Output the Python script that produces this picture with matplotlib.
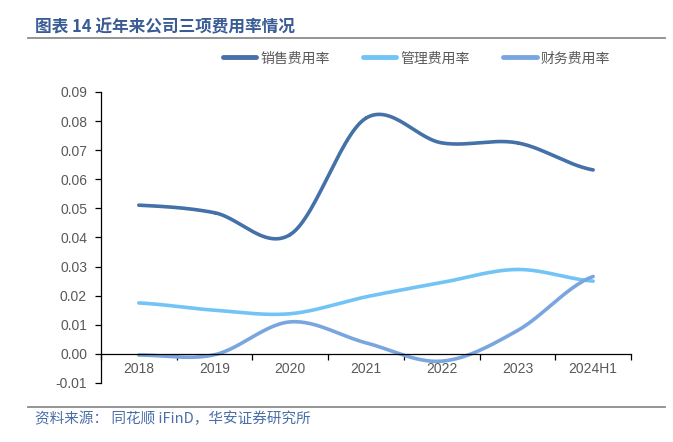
import numpy as np
import matplotlib.pyplot as plt
from matplotlib.lines import Line2D

plt.rcParams['font.family'] = ['Liberation Sans', 'Noto Sans CJK SC', 'DejaVu Sans']

# Data
years = ['2018', '2019', '2020', '2021', '2022', '2023', '2024H1']
sales_rate = [0.0511, 0.0485, 0.0410, 0.0810, 0.0725, 0.0725, 0.0632]
admin_rate = [0.0175, 0.0150, 0.0138, 0.0196, 0.0245, 0.0290, 0.0250]
fin_rate = [-0.0004, -0.0003, 0.0110, 0.0038, -0.0025, 0.0080, 0.0266]

names = ['销售费用率', '管理费用率', '财务费用率']
colors = ['#4471A8', '#72C4F6', '#7AA6E0']


def smooth(y, n=30):
    # Catmull-Rom style smoothing, like Excel smoothed lines
    y = np.asarray(y, dtype=float)
    x = np.arange(len(y), dtype=float)
    xs, ys = [], []
    for i in range(len(y) - 1):
        p0 = y[i - 1] if i > 0 else y[i]
        p1, p2 = y[i], y[i + 1]
        p3 = y[i + 2] if i + 2 < len(y) else y[i + 1]
        t = np.linspace(0, 1, n)
        seg = 0.5 * ((2 * p1) + (-p0 + p2) * t + (2 * p0 - 5 * p1 + 4 * p2 - p3) * t ** 2
                     + (-p0 + 3 * p1 - 3 * p2 + p3) * t ** 3)
        xs.append(x[i] + t)
        ys.append(seg)
    return np.concatenate(xs), np.concatenate(ys)


fig = plt.figure(figsize=(6.73, 4.42), dpi=100)
ax = fig.add_axes([0.150, 0.1335, 0.7876, 0.6585])

for vals, c in zip([sales_rate, admin_rate, fin_rate], colors):
    sx, sy = smooth(vals)
    ax.plot(sx, sy, color=c, lw=2.6, solid_capstyle='round')

ax.set_xlim(-0.5, len(years) - 0.5)
ax.set_ylim(-0.01, 0.09)
ax.set_yticks(np.arange(-0.01, 0.0901, 0.01))
ax.set_yticklabels(['%.2f' % v for v in np.arange(-0.01, 0.0901, 0.01)])

ax.spines['top'].set_visible(False)
ax.spines['right'].set_visible(False)
ax.spines['bottom'].set_position(('data', 0))
ax.spines['left'].set_linewidth(0.9)
ax.spines['bottom'].set_linewidth(0.9)

ax.set_xticks(range(len(years)))
ax.set_xticklabels(years)
ax.set_xticks(np.arange(-0.5, len(years), 1), minor=True)
ax.tick_params(axis='x', which='major', length=0, pad=6, labelsize=10, labelcolor='#595959')
ax.tick_params(axis='x', which='minor', length=4, direction='out', width=0.9)
ax.tick_params(axis='y', length=4, direction='out', width=0.9, labelsize=10, labelcolor='#595959', pad=6)

handles = [Line2D([], [], color=c, lw=3.5, solid_capstyle='round') for c in colors]
fig.legend(handles, names, loc='center', bbox_to_anchor=(0.619, 0.868), ncol=3,
           frameon=False, handlelength=2.4, handletextpad=0.3, columnspacing=2.4,
           prop={'family': ['Noto Sans CJK SC'], 'size': 10}, labelcolor='#595959')

# Title and source
fig.text(0.052, 0.938, '图表 14 近年来公司三项费用率情况', fontsize=12, fontweight='bold',
         color='#3A5C94', family=['Noto Sans CJK SC', 'DejaVu Sans'], va='center')
fig.add_artist(Line2D([0.042, 0.988], [0.914, 0.914], color='#8C8C8C', lw=1.3))
fig.add_artist(Line2D([0.042, 0.988], [0.080, 0.080], color='#8C8C8C', lw=1.3))
fig.text(0.052, 0.052, '资料来源： 同花顺 iFinD，华安证券研究所', fontsize=10.5,
         color='#4A6EA8', family=['Noto Sans CJK SC', 'DejaVu Sans'], va='center')

fig.savefig('out.png', dpi=100)
